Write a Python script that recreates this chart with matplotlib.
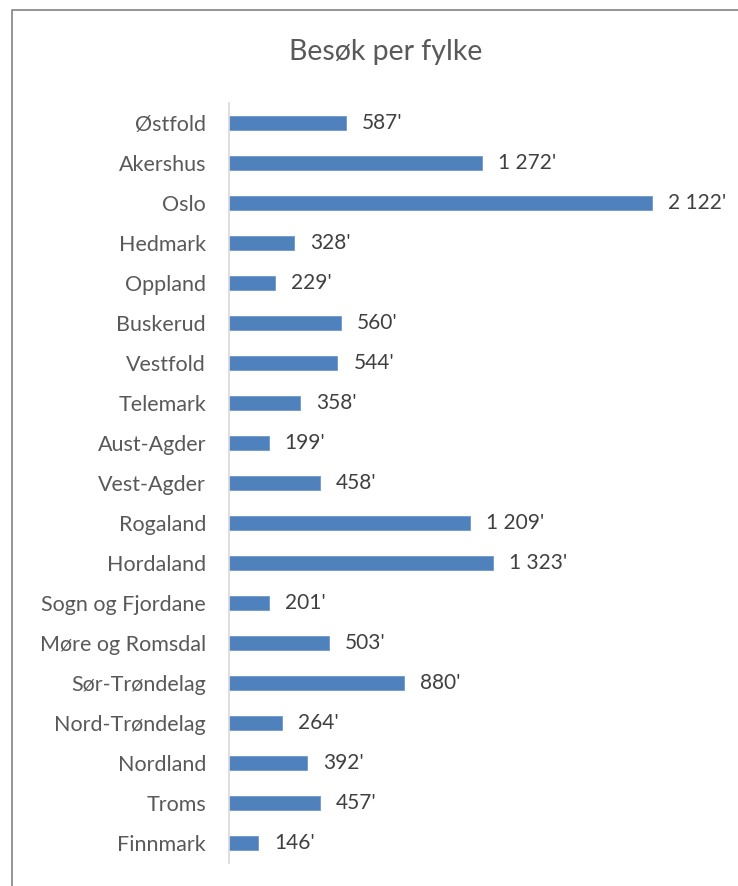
import matplotlib
matplotlib.use("Agg")
import matplotlib.pyplot as plt
from matplotlib.lines import Line2D

plt.rcParams['font.family'] = ['Lato', 'DejaVu Sans']

title = "Besøk per fylke"
categories = ["Østfold", "Akershus", "Oslo", "Hedmark", "Oppland", "Buskerud",
              "Vestfold", "Telemark", "Aust-Agder", "Vest-Agder", "Rogaland",
              "Hordaland", "Sogn og Fjordane", "Møre og Romsdal", "Sør-Trøndelag",
              "Nord-Trøndelag", "Nordland", "Troms", "Finnmark"]
values = [587, 1272, 2122, 328, 229, 560, 544, 358, 199, 458, 1209,
          1323, 201, 503, 880, 264, 392, 457, 146]

W, H = 738, 886
fig = plt.figure(figsize=(W / 100, H / 100), dpi=100)
ax = fig.add_axes([229 / W, 1 - 863 / H, 498 / W, 760 / H])

y = list(range(len(categories)))
bars = ax.barh(y, values, height=0.37, color='#4F81BD', edgecolor='#6E98CC', linewidth=0.6)
ax.set_ylim(len(categories) - 0.5, -0.5)
ax.set_xlim(0, 2500)
ax.set_yticks(y)
ax.set_yticklabels(categories, fontsize=15.5, color='#595959')
ax.tick_params(axis='y', length=0, pad=16.5)
ax.set_xticks([])
for s in ['top', 'right', 'bottom']:
    ax.spines[s].set_visible(False)
ax.spines['left'].set_color('#D9D9D9')
ax.spines['left'].set_linewidth(1.2)

labels = [f"{v:,}".replace(",", " ") + "'" for v in values]
ax.bar_label(bars, labels=labels, padding=11.5, fontsize=15, color='#404040')

fig.text(386 / W, 1 - 52 / H, title, ha='center', va='center', fontsize=20.5, color='#595959')

# chart frame
fx = 12 / W
fy = 1 - 10 / H
fig.add_artist(Line2D([fx, fx, 1.0], [0.0, fy, fy], transform=fig.transFigure,
                      color='#8C8C8C', linewidth=1.3))

fig.savefig("out.png", dpi=100)
